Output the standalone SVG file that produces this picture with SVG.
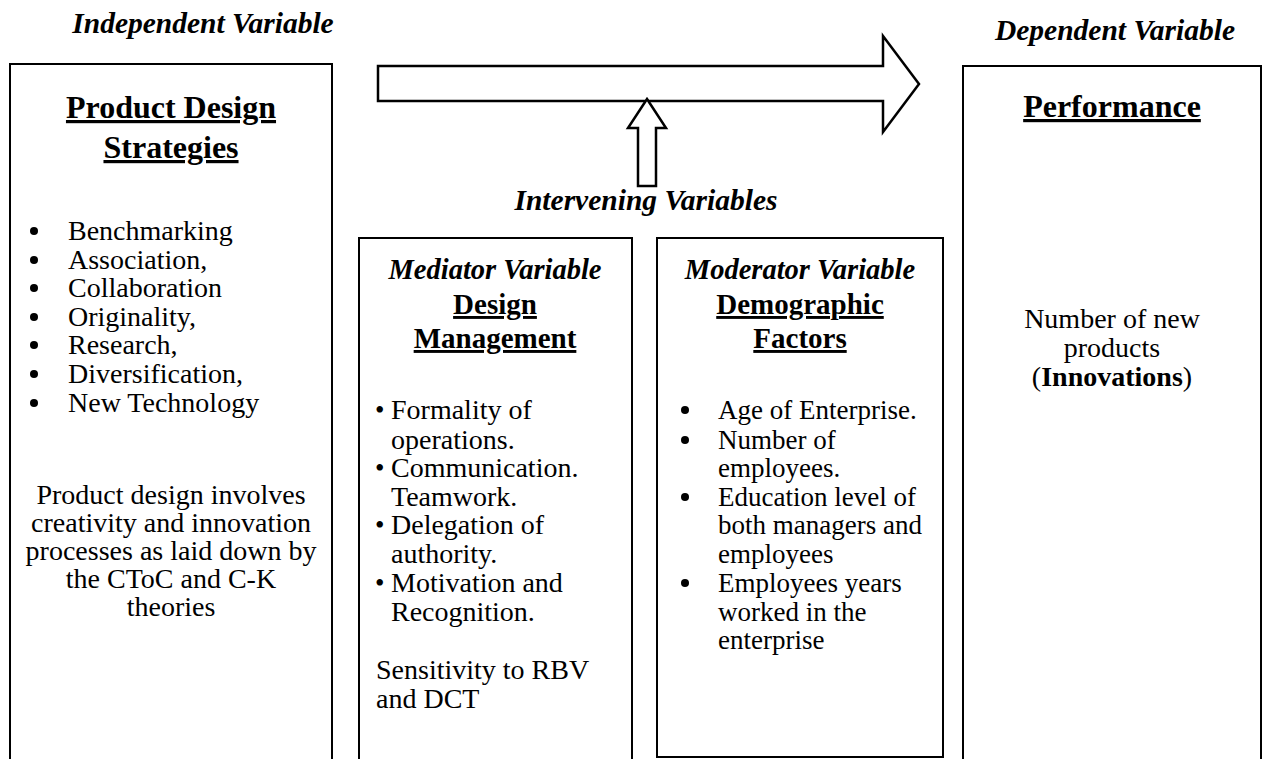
<svg xmlns="http://www.w3.org/2000/svg" width="1267" height="759" viewBox="0 0 1267 759" font-family="'Liberation Serif', 'Times New Roman', serif">
  <style>
    text { font-family: "Liberation Serif", "Times New Roman", serif; fill: #000; }
    .hdr { font-size: 29.5px; font-weight: bold; font-style: italic; text-anchor: middle; }
    .hdr2 { font-size: 28.5px; font-weight: bold; font-style: italic; text-anchor: middle; }
    .ttl { font-size: 32px; font-weight: bold; text-anchor: middle; text-decoration: underline; text-decoration-thickness: 2.5px; }
    .ttl2 { font-size: 29px; font-weight: bold; text-anchor: middle; text-decoration: underline; text-decoration-thickness: 2.5px; }
    .body { font-size: 28px; }
    .body-s { font-size: 27px; }
    .mid { text-anchor: middle; }
    .bs { font-size: 27px; }
    .dot { fill: #000; }
    .box { fill: #fff; stroke: #000; stroke-width: 2; }
    .blk { fill: #fff; stroke: #000; stroke-width: 2.5; stroke-linejoin: miter; }
  </style>

  <!-- variable headings -->
  <text class="hdr" x="203" y="33">Independent Variable</text>
  <text class="hdr" x="1115" y="40">Dependent Variable</text>

  <!-- independent variable -->
  <g id="product-design">
    <rect class="box" x="10" y="64" width="322" height="720"/>
    <text class="ttl" x="171" y="118">Product Design</text>
    <text class="ttl" x="171" y="158">Strategies</text>
    <g class="dot">
      <circle cx="34" cy="231" r="4"/>
      <circle cx="34" cy="260" r="4"/>
      <circle cx="34" cy="288" r="4"/>
      <circle cx="34" cy="317" r="4"/>
      <circle cx="34" cy="345" r="4"/>
      <circle cx="34" cy="374" r="4"/>
      <circle cx="34" cy="403" r="4"/>
    </g>
    <g class="body">
      <text x="68" y="240">Benchmarking</text>
      <text x="68" y="269">Association,</text>
      <text x="68" y="297">Collaboration</text>
      <text x="68" y="326">Originality,</text>
      <text x="68" y="354">Research,</text>
      <text x="68" y="383">Diversification,</text>
      <text x="68" y="412">New Technology</text>
    </g>
    <g class="body mid">
      <text x="171" y="504">Product design involves</text>
      <text x="171" y="532">creativity and innovation</text>
      <text x="171" y="560">processes as laid down by</text>
      <text x="171" y="588">the CToC and C-K</text>
      <text x="171" y="616">theories</text>
    </g>
  </g>

  <!-- intervening variables -->
  <text class="hdr" x="646" y="210">Intervening Variables</text>

  <g id="mediator">
    <rect class="box" x="359" y="238" width="273" height="560"/>
    <text class="hdr2" x="495" y="279">Mediator Variable</text>
    <text class="ttl2" x="495" y="314">Design</text>
    <text class="ttl2" x="495" y="348">Management</text>
    <g class="body">
      <text y="419"><tspan class="bs" x="375">•</tspan><tspan x="391">Formality of</tspan></text>
      <text x="391" y="449">operations.</text>
      <text y="477"><tspan class="bs" x="375">•</tspan><tspan x="391">Communication.</tspan></text>
      <text x="391" y="506">Teamwork.</text>
      <text y="534"><tspan class="bs" x="375">•</tspan><tspan x="391">Delegation of</tspan></text>
      <text x="391" y="563">authority.</text>
      <text y="592"><tspan class="bs" x="375">•</tspan><tspan x="391">Motivation and</tspan></text>
      <text x="391" y="621">Recognition.</text>
      <text x="376" y="679">Sensitivity to RBV</text>
      <text x="376" y="708">and DCT</text>
    </g>
  </g>

  <g id="moderator">
    <rect class="box" x="657" y="238" width="286" height="519"/>
    <text class="hdr2" x="800" y="279">Moderator Variable</text>
    <text class="ttl2" x="800" y="314">Demographic</text>
    <text class="ttl2" x="800" y="348">Factors</text>
    <g class="dot">
      <circle cx="685" cy="410" r="4"/>
      <circle cx="685" cy="440" r="4"/>
      <circle cx="685" cy="497" r="4"/>
      <circle cx="685" cy="583" r="4"/>
    </g>
    <g class="body-s">
      <text x="718" y="419">Age of Enterprise.</text>
      <text x="718" y="449">Number of</text>
      <text x="718" y="477">employees.</text>
      <text x="718" y="506">Education level of</text>
      <text x="718" y="534">both managers and</text>
      <text x="718" y="563">employees</text>
      <text x="718" y="592">Employees years</text>
      <text x="718" y="621">worked in the</text>
      <text x="718" y="649">enterprise</text>
    </g>
  </g>

  <!-- dependent variable -->
  <g id="performance">
    <rect class="box" x="963" y="66" width="298" height="720"/>
    <text class="ttl" x="1112" y="117">Performance</text>
    <g class="body mid">
      <text x="1112" y="328">Number of new</text>
      <text x="1112" y="357">products</text>
      <text x="1112" y="386">(<tspan font-weight="bold">Innovations</tspan>)</text>
    </g>
  </g>

  <!-- block arrows -->
  <g id="connectors">
    <path class="blk" d="M378,66 H883 V36 L919,84 L883,132 V101 H378 Z"/>
    <path class="blk" d="M647,99 L666,128 H656 V186 H638 V128 H628 Z"/>
  </g>
</svg>
